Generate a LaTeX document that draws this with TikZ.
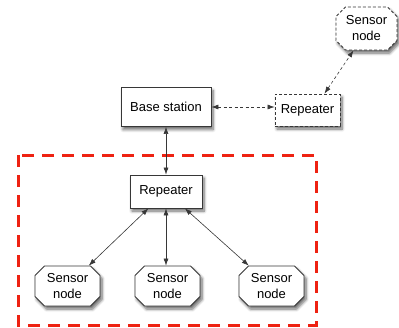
\documentclass[tikz,border=0pt]{standalone}
\usepackage{fontspec}
\setmainfont{Liberation Sans}
\usetikzlibrary{arrows.meta,shapes.misc,shadows.blur,calc}
\definecolor{zonered}{RGB}{238,34,18}
\definecolor{edgegray}{RGB}{55,55,55}
\begin{document}
\begin{tikzpicture}[x=1pt,y=-1pt,
  softshadow/.style={blur shadow={shadow xshift=2pt,shadow yshift=-3pt,
      shadow blur steps=6,shadow opacity=60,shadow blur radius=3pt}},
  box/.style={rectangle,draw=edgegray,line width=0.8pt,fill=white,
      inner sep=0pt,align=center,font=\fontsize{13}{16}\selectfont,softshadow},
  sensor/.style={box,chamfered rectangle,chamfered rectangle xsep=6pt,
      chamfered rectangle angle=45,minimum width=65pt,minimum height=40pt},
  link/.style={draw=edgegray,line width=0.6pt,{Latex[length=7pt,width=5pt]}-{Latex[length=7pt,width=5pt]}},
  dashedlink/.style={link,dash pattern=on 3pt off 2.5pt},
  dashedbox/.style={dash pattern=on 3pt off 2pt}]
  \useasboundingbox (0,0) rectangle (399,327);

  % wired part
  \node[box,minimum width=90pt,minimum height=39pt] (base) at (166,107) {Base station};
  \node[box,minimum width=72pt,minimum height=33pt] (rep) at (166,191.5) {Repeater};
  \node[sensor] (s1) at (67.5,286) {Sensor\\node};
  \node[sensor] (s2) at (167.5,286) {Sensor\\node};
  \node[sensor] (s3) at (271.5,286) {Sensor\\node};

  % remote part, drawn dashed
  \node[box,dashedbox,minimum width=65pt,minimum height=32pt] (rep2) at (307.5,110) {Repeater};
  \node[sensor,dashedbox,minimum width=61pt,minimum height=43pt] (s0) at (366.5,28.5) {Sensor\\node};

  % cluster boundary
  \draw[zonered,line width=3pt,dash pattern=on 12pt off 8pt] (18,155) rectangle (316,325);

  % connections
  \draw[link] (base) -- (rep);
  \draw[link] (rep) -- (s1);
  \draw[link] (rep.south) -- (rep.south |- s2.north);
  \draw[link] (rep) -- (s3);
  \draw[dashedlink] (base.east) -- (base.east -| rep2.west);
  \draw[dashedlink] ($(rep2.north)+(17,0)$) -- ($(s0.south)+(-13,0)$);
\end{tikzpicture}
\end{document}
